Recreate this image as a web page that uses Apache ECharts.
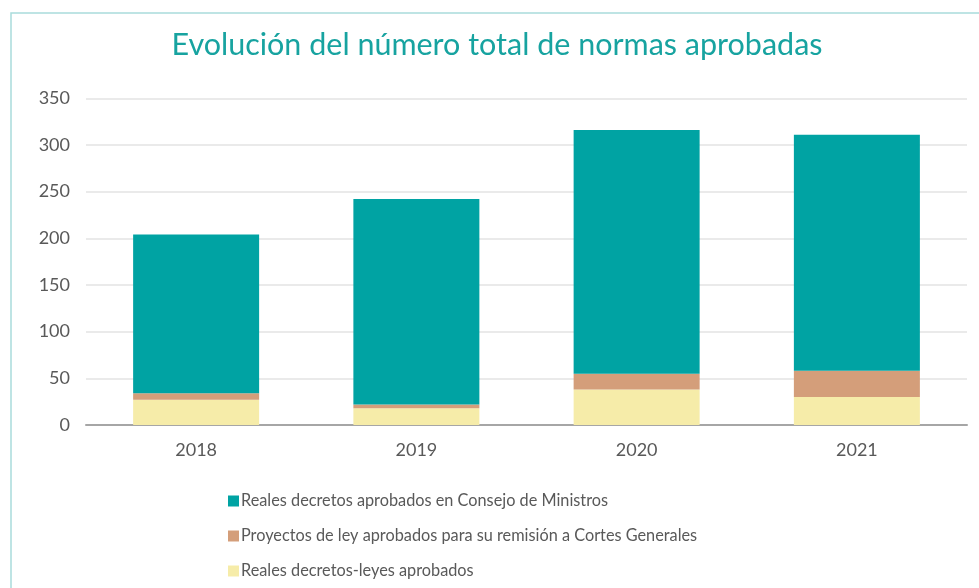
<!DOCTYPE html>
<html><head><meta charset="utf-8">
<script src="https://cdn.jsdelivr.net/npm/echarts@6/dist/echarts.min.js"></script>
<style>html,body{margin:0;padding:0;background:#fff}#c{width:979px;height:588px}</style>
</head><body><div id="c"></div>
<script>
const categories = ['2018', '2019', '2020', '2021'];
const realesDecretosLeyes = [27, 18, 38, 30];
const proyectosLey = [7, 4, 17, 28];
const realesDecretos = [170, 220, 261, 253];
const seriesNames = [
  'Reales decretos aprobados en Consejo de Ministros',
  'Proyectos de ley aprobados para su remisión a Cortes Generales',
  'Reales decretos-leyes aprobados'
];
const FONT = 'Lato';
const legendTops = [488, 523, 558];
const chart = echarts.init(document.getElementById('c'), null, {renderer: 'canvas'});
chart.setOption({
  animation: false,
  textStyle: {fontFamily: FONT},
  graphic: [{
    type: 'rect', shape: {x: 11, y: 13, width: 1000, height: 600},
    style: {fill: 'none', stroke: '#a9dcdb', lineWidth: 1.5}, silent: true, z: -1
  }],
  title: {
    text: 'Evolución del número total de normas aprobadas',
    left: 492, top: 25, textAlign: 'center',
    textStyle: {color: '#17a3a0', fontSize: 30.5, fontWeight: 'normal', fontFamily: FONT}
  },
  grid: {left: 86, right: 12, top: 98.3, bottom: 163, containLabel: false},
  legend: seriesNames.map((n, i) => ({
    orient: 'horizontal', left: 223, top: legendTops[i], itemWidth: 11, itemHeight: 11,
    icon: 'rect', data: [n], selectedMode: false,
    textStyle: {color: '#595959', fontSize: 16.3, fontFamily: FONT, padding: [0, 0, 0, -3]}
  })),
  xAxis: {
    type: 'category', data: categories,
    axisLine: {lineStyle: {color: '#a6a6a6', width: 2}},
    axisTick: {show: false},
    axisLabel: {color: '#595959', fontSize: 18, margin: 16, fontFamily: FONT}
  },
  yAxis: {
    type: 'value', min: 0, max: 350, interval: 50,
    axisLine: {show: false}, axisTick: {show: false},
    splitLine: {lineStyle: {color: '#e3e3e3', width: 1.5}},
    axisLabel: {color: '#595959', fontSize: 18, margin: 16, fontFamily: FONT}
  },
  series: [
    {name: seriesNames[2], type: 'bar', stack: 't', data: realesDecretosLeyes, barWidth: 126, itemStyle: {color: '#f6eca9'}},
    {name: seriesNames[1], type: 'bar', stack: 't', data: proyectosLey, barWidth: 126, itemStyle: {color: '#d49e7a'}},
    {name: seriesNames[0], type: 'bar', stack: 't', data: realesDecretos, barWidth: 126, itemStyle: {color: '#00a3a3'}}
  ]
});
</script></body></html>
